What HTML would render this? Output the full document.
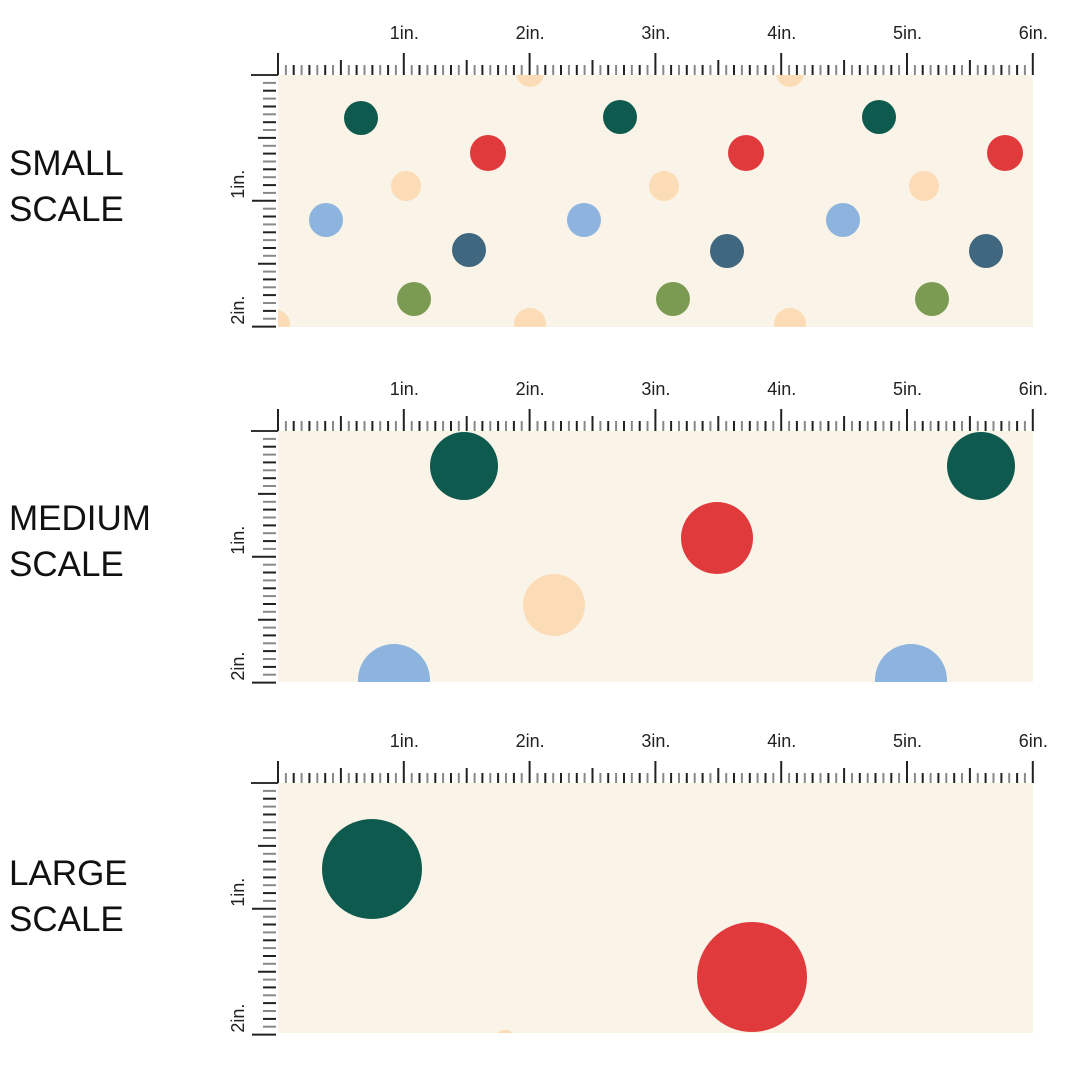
<!DOCTYPE html>
<html><head><meta charset="utf-8"><style>
html,body{margin:0;padding:0;background:#fff;width:1080px;height:1080px;overflow:hidden}
svg{display:block}
</style></head><body>
<svg id="s" width="1080" height="1080" xmlns="http://www.w3.org/2000/svg" font-family="Liberation Sans, sans-serif">
<defs>
<clipPath id="c1"><rect x="278" y="75" width="755" height="252"/></clipPath>
<clipPath id="c2"><rect x="278" y="431" width="755" height="251"/></clipPath>
<clipPath id="c3"><rect x="278" y="783" width="755" height="250"/></clipPath>
</defs>
<g font-size="35" fill="#111">
<text x="9" y="175">SMALL</text><text x="9" y="221">SCALE</text>
<text x="9" y="530">MEDIUM</text><text x="9" y="576">SCALE</text>
<text x="9" y="885">LARGE</text><text x="9" y="931">SCALE</text>
</g>
<rect x="278" y="75" width="755" height="252" fill="#f9f3e8"/>
<rect x="278" y="431" width="755" height="251" fill="#f9f3e8"/>
<rect x="278" y="783" width="755" height="250" fill="#f9f3e8"/>
<g clip-path="url(#c1)">
<g fill="#fbdcb6"><circle cx="530" cy="73" r="14"/><circle cx="790" cy="73" r="14"/><circle cx="530" cy="324" r="16"/><circle cx="790" cy="324" r="16"/><circle cx="276" cy="324" r="14"/>
<circle cx="406" cy="186" r="15"/><circle cx="664" cy="186" r="15"/><circle cx="924" cy="186" r="15"/></g>
<g fill="#0f5a4e"><circle cx="361" cy="118" r="17"/><circle cx="620" cy="117" r="17"/><circle cx="879" cy="117" r="17"/></g>
<g fill="#e03a3c"><circle cx="488" cy="153" r="18"/><circle cx="746" cy="153" r="18"/><circle cx="1005" cy="153" r="18"/></g>
<g fill="#8db4de"><circle cx="326" cy="220" r="17"/><circle cx="584" cy="220" r="17"/><circle cx="843" cy="220" r="17"/></g>
<g fill="#3f6880"><circle cx="469" cy="250" r="17"/><circle cx="727" cy="251" r="17"/><circle cx="986" cy="251" r="17"/></g>
<g fill="#7b9b52"><circle cx="414" cy="299" r="17"/><circle cx="673" cy="299" r="17"/><circle cx="932" cy="299" r="17"/></g>
</g>
<g clip-path="url(#c2)">
<g fill="#0f5a4e"><circle cx="464" cy="466" r="34"/><circle cx="981" cy="466" r="34"/></g>
<circle cx="717" cy="538" r="36" fill="#e03a3c"/>
<circle cx="554" cy="605" r="31" fill="#fbdcb6"/>
<g fill="#8db4de"><circle cx="394" cy="680" r="36"/><circle cx="911" cy="680" r="36"/></g>
</g>
<g clip-path="url(#c3)">
<circle cx="372" cy="869" r="50" fill="#0f5a4e"/>
<circle cx="752" cy="977" r="55" fill="#e03a3c"/>
<circle cx="505" cy="1042" r="12" fill="#fbdcb6"/>
</g>
<g id="rulers"></g>
</svg>
<script>
var g=document.getElementById('rulers'),h='';
var tops=[75,431,783],inch=125.8,st=inch/16;
tops.forEach(function(t){
  for(var i=0;i<=96;i++){var x=278+i*st,len=(i%16==0)?22:(i%8==0)?15:10;
    var col=(i%2==0)?'#222':'#888';
    h+='<line x1="'+x.toFixed(1)+'" y1="'+t+'" x2="'+x.toFixed(1)+'" y2="'+(t-len)+'" stroke="'+col+'" stroke-width="2"/>';}
  for(var k=1;k<=6;k++)h+='<text x="'+(278+k*inch-14).toFixed(1)+'" y="'+(t-36)+'" font-size="18" fill="#222">'+k+'in.</text>';
  h+='<line x1="251" y1="'+t+'" x2="278" y2="'+t+'" stroke="#333" stroke-width="2"/>';
  for(var j=1;j<=32;j++){var y=t+j*st,len=(j%16==0)?24:(j%8==0)?18:13;
    var col=(j%2==0)?'#222':'#888';
    h+='<line x1="276" y1="'+y.toFixed(1)+'" x2="'+(276-len)+'" y2="'+y.toFixed(1)+'" stroke="'+col+'" stroke-width="2"/>';}
  for(var k=1;k<=2;k++){var y=t+k*inch;
    h+='<text transform="translate(244,'+(y-2).toFixed(1)+') rotate(-90)" font-size="18" fill="#222">'+k+'in.</text>';}
});
g.innerHTML=h;
</script>
</body></html>
